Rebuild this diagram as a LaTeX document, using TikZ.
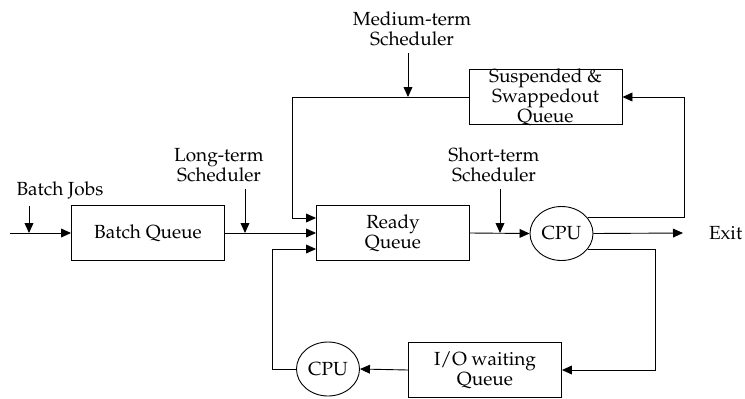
\documentclass[tikz,border=0pt]{standalone}
\usepackage[T1]{fontenc}
\usepackage{mathpazo}
\usetikzlibrary{arrows.meta,shapes.geometric,calc}

\begin{document}
\begin{tikzpicture}[
  x=0.5pt, y=-0.5pt,
  txt/.style={font=\fontsize{9.5}{10}\selectfont, align=center},
  box/.style={draw, line width=0.45pt, minimum width=76.5pt, minimum height=27.5pt, inner sep=0pt},
  cpu/.style={draw, ellipse, line width=0.45pt, minimum width=31.5pt, minimum height=27pt, inner sep=0pt},
  flow/.style={line width=0.45pt, -{Triangle[length=5pt,width=4.4pt]}}
]
\useasboundingbox (0,0) rectangle (745,398);

% queues and processors
\node[box, txt] (batch) at (148,233) {Batch Queue};
\node[box, txt] (ready) at (393,233) {Ready\\Queue};
\node[box] (susp) at (545.5,97) {};
\node[txt] (susptext) at (susp.center) {Suspended \&\\Swappedout\\Queue};
\node[box, txt] (io) at (485,370) {I/O waiting\\Queue};
\node[cpu, txt] (cpu1) at (561.5,233.5) {CPU};
\node[cpu, txt] (cpu2) at (328,369) {CPU};

% scheduler labels
\node[txt] (jobs) at (60,190) {Batch Jobs};
\node[txt] (lts) at (219,165) {Long-term\\Scheduler};
\node[txt] (mts) at (412,29) {Medium-term\\Scheduler};
\node[txt] (sts) at (494,165) {Short-term\\Scheduler};
\node[txt, anchor=west] (exitlbl) at (702,233) {Exit};

% points on the flow lines
\coordinate (start) at (10,233);
\coordinate (jobsin) at (29,233);
\coordinate (ltsin) at (245,233);
\coordinate (mtsin) at (408,97);
\coordinate (stsin) at (500,233);
\coordinate (exit) at (683,233);
\coordinate (rturn) at (684,97);
\coordinate (lturn) at (655,370);

% main flow
\draw[flow] (start) -- (batch.west);
\draw[flow] (batch.east) -- (ready.west);
\draw[flow] (ready.east) -- (cpu1.west);
\draw[flow] (cpu1.east) -- (exit);

% swap loop
\draw[flow] (cpu1.31) -| (rturn) -- (susp.east);
\draw[flow] (susp.west) -| ($(ready.west)+(-24,-15)$) -- ($(ready.west)+(0,-15)$);

% I/O loop
\draw[flow] (cpu1.-31) -| (lturn) -- (io.east);
\draw[flow] (io.west) -- (cpu2.east);
\draw[flow] (cpu2.west) -| ($(ready.west)+(-44,16)$) -- ($(ready.west)+(0,16)$);

% scheduler arrows
\draw[flow] (jobsin |- jobs.south) -- (jobsin);
\draw[flow] (ltsin |- lts.south) -- (ltsin);
\draw[flow] (mtsin |- mts.south) -- (mtsin);
\draw[flow] (stsin |- sts.south) -- (stsin);
\end{tikzpicture}
\end{document}
